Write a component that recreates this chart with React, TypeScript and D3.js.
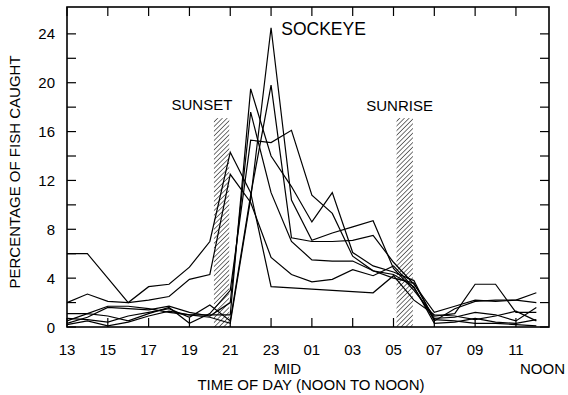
import React from "react";
import * as d3 from "d3";

// hours from 13:00 to noon next day (25 = 01, 36 = 12)
const hours = [13, 14, 15, 16, 17, 18, 19, 20, 21, 22, 23, 24, 25, 26, 27, 28, 29, 30, 31, 32, 33, 34, 35, 36];

// percentage of fish caught, one array per sample
const catch1 = [0.2, 0.5, 0.1, 0.4, 0.9, 1.3, 1.0, 0.8, 0.3, 10.5, 24.5, 10.4, 7.1, 7.7, 8.2, 8.7, 4.8, 3.0, 0.9, 1.1, 3.5, 3.5, 1.2, 1.2];
const catch2 = [0.7, 0.6, 0.4, 0.9, 1.2, 1.5, 0.8, 1.8, 0.5, 10.8, 19.8, 7.3, 7.0, 7.0, 7.1, 7.5, 5.3, 3.5, 1.2, 1.7, 2.2, 2.1, 2.2, 2.8];
const catch3 = [1.1, 1.1, 1.7, 1.7, 1.5, 1.2, 1.0, 1.0, 1.0, 19.5, 14.0, 11.5, 8.6, 11.0, 6.1, 5.0, 4.5, 3.8, 0.5, 1.5, 2.1, 2.2, 2.2, 2.0];
const catch4 = [0.3, 0.8, 1.6, 1.5, 1.4, 1.7, 1.2, 0.9, 2.0, 17.6, 11.0, 7.0, 5.5, 5.4, 5.4, 4.6, 4.0, 3.6, 0.7, 0.8, 1.2, 1.0, 0.5, 1.6];
const catch5 = [0.5, 1.1, 0.9, 0.5, 1.1, 1.6, 0.3, 1.1, 3.0, 15.3, 15.1, 16.1, 10.8, 9.3, 5.8, 4.6, 4.3, 3.3, 0.3, 0.4, 0.7, 0.4, 0.3, 0.6];
const catch6 = [6.0, 6.0, 4.0, 2.0, 3.3, 3.5, 4.9, 7.0, 14.3, 11.0, 3.3, 3.2, 3.1, 3.0, 2.9, 2.8, 4.2, 2.2, 1.0, 0.9, 0.6, 0.9, 1.3, 0.5];
const catch7 = [2.0, 2.7, 2.1, 2.0, 2.2, 2.5, 3.9, 4.3, 12.5, 10.2, 5.7, 4.3, 3.7, 3.9, 4.7, 4.2, 5.0, 3.2, 0.6, 0.5, 0.3, 0.3, 0.2, 0.1];

const seriesList = [catch1, catch2, catch3, catch4, catch5, catch6, catch7];

const xTicks = [13, 15, 17, 19, 21, 23, 25, 27, 29, 31, 33, 35];
const xTickLabels = ["13", "15", "17", "19", "21", "23", "01", "03", "05", "07", "09", "11"];
const yTicks = [0, 2, 4, 6, 8, 10, 12, 14, 16, 18, 20, 22, 24];
const yLabels = [0, 4, 8, 12, 16, 20, 24];

// hatched bands (hour range) and their top value
const sunsetBand = [20.2, 20.95];
const sunriseBand = [29.15, 29.95];
const bandTop = 17.1;

const W = 568;
const H = 395;
const margin = { top: 7, right: 19, bottom: 68, left: 67 };
const font = "'Liberation Sans', Arial, Helvetica, sans-serif";

export default function App() {
  const iw = W - margin.left - margin.right;
  const ih = H - margin.top - margin.bottom;

  const x = d3.scaleLinear().domain([13, 36.62]).range([0, iw]);
  const y = d3.scaleLinear().domain([0, 26.2]).range([ih, 0]);

  const line = d3
    .line<number>()
    .x((_, i) => x(hours[i]))
    .y((d) => y(d));

  const bands = [sunsetBand, sunriseBand];
  const tickLen = 9;

  return (
    <svg
      width={W}
      height={H}
      style={{ position: "absolute", left: 0, top: 0, background: "#fff" }}
      fontFamily={font}
    >
      <defs>
        <pattern
          id="hatch"
          patternUnits="userSpaceOnUse"
          width={3.3}
          height={3.3}
          patternTransform="rotate(45)"
        >
          <line x1={0} y1={0} x2={0} y2={3.3} stroke="#000" strokeWidth={1.1} />
        </pattern>
      </defs>
      <g transform={`translate(${margin.left},${margin.top})`}>
        {bands.map((b, i) => (
          <rect
            key={i}
            x={x(b[0])}
            y={y(bandTop)}
            width={x(b[1]) - x(b[0])}
            height={y(0) - y(bandTop)}
            fill="url(#hatch)"
          />
        ))}

        {seriesList.map((s, i) => (
          <path
            key={i}
            d={line(s) || ""}
            fill="none"
            stroke="#000"
            strokeWidth={1.2}
            strokeLinejoin="miter"
          />
        ))}

        {/* frame */}
        <rect x={0} y={0} width={iw} height={ih} fill="none" stroke="#000" strokeWidth={1.6} />

        {/* x ticks, bottom and top, pointing inward */}
        {xTicks.map((t, i) => (
          <g key={t}>
            <line x1={x(t)} x2={x(t)} y1={ih} y2={ih - tickLen} stroke="#000" strokeWidth={1.2} />
            <line x1={x(t)} x2={x(t)} y1={0} y2={tickLen} stroke="#000" strokeWidth={1.2} />
            <text x={x(t)} y={ih + 28} textAnchor="middle" fontSize={15}>
              {xTickLabels[i]}
            </text>
          </g>
        ))}

        {/* y ticks, left and right */}
        {yTicks.map((t) => (
          <g key={t}>
            <line x1={0} x2={tickLen} y1={y(t)} y2={y(t)} stroke="#000" strokeWidth={1.2} />
            <line x1={iw} x2={iw - tickLen} y1={y(t)} y2={y(t)} stroke="#000" strokeWidth={1.2} />
          </g>
        ))}
        {yLabels.map((t) => (
          <text key={t} x={-12} y={y(t) + 5.5} textAnchor="end" fontSize={15}>
            {t}
          </text>
        ))}

        <text x={x(23.8)} y={ih + 47} textAnchor="middle" fontSize={15}>
          MID
        </text>
        <text x={x(36.3)} y={ih + 47} textAnchor="middle" fontSize={15}>
          NOON
        </text>

        <text x={x(sunsetBand[0]) - 12} y={y(bandTop) - 8} textAnchor="middle" fontSize={15}>
          SUNSET
        </text>
        <text x={x(sunriseBand[0]) + 3} y={y(bandTop) - 7} textAnchor="middle" fontSize={15}>
          SUNRISE
        </text>
        <text x={x(23.5)} y={y(23.9)} fontSize={17.5}>
          SOCKEYE
        </text>
      </g>

      <text x={311} y={390} textAnchor="middle" fontSize={15} fontFamily={font}>
        TIME OF DAY (NOON TO NOON)
      </text>
      <text
        transform={`translate(20,${margin.top + ih / 2 + 5}) rotate(-90)`}
        textAnchor="middle"
        fontSize={15}
        fontFamily={font}
      >
        PERCENTAGE OF FISH CAUGHT
      </text>
    </svg>
  );
}
